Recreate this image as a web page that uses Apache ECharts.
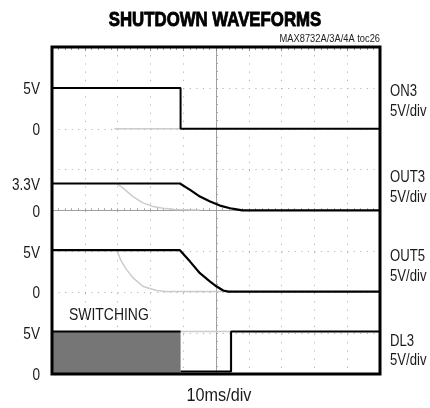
<!DOCTYPE html>
<html><head><meta charset="utf-8">
<script src="https://cdn.jsdelivr.net/npm/echarts@6/dist/echarts.min.js"></script>
<style>html,body{margin:0;padding:0;background:#fff}#c{width:430px;height:408px}</style>
</head><body><div id="c"></div>
<script>
// time in ms (0 = screen centre, 10 ms/div), voltages in V (5 V/div)
const channels = ['ON3', 'OUT3', 'OUT5', 'DL3'];
const channelZeroDiv = [2, 0, -2, -4];          // zero level of each channel, in divisions
const voltsPerDiv = 5;

// black (shutdown) traces
const on3T  = [-50, -10.8, -10.8, 50];
const on3V  = [5, 5, 0, 0];
const out3T = [-50, -11, -7.9, -4.9, -1.8, 1.2, 4.3, 6.3, 8, 50];
const out3V = [3.3, 3.3, 2.52, 1.70, 1.09, 0.60, 0.28, 0.14, 0.02, 0.02];
const out5T = [-50, -11, -7.9, -4.9, -1.8, 0.2, 2.2, 3.7, 50];
const out5V = [5.15, 5.15, 3.75, 2.33, 1.31, 0.70, 0.21, 0.08, 0.08];
const dl3SwT = [-50, -10.8];
const dl3SwV = [5.2, 5.2];
const dl3T  = [-10.8, 4.6, 4.6, 50];
const dl3V  = [0.3, 0.3, 5.2, 5.2];

// grey (earlier) traces
const on3GT  = [-31, -10.8];
const on3GV  = [0, 0];
const out3GT = [-30.3, -28.4, -25.3, -22.3, -19.2, -16.2, -12.5, -5];
const out3GV = [3.3, 2.76, 1.70, 0.93, 0.48, 0.28, 0.13, 0.05];
const out5GT = [-30.3, -28.8, -27.2, -25.2, -22.2, -18.1, -15.5, 5];
const out5GV = [5.15, 3.75, 2.74, 1.72, 0.70, 0.21, 0.08, 0.08];
const dl3GT  = [-10.8, 4.4, 4.4];
const dl3GV  = [5.2, 5.2, 0.3];

// axis label texts (left: level marks per channel, right: channel names)
const leftLabelChannel = [0, 0, 1, 1, 2, 2, 3, 3];
const leftLabelVolts   = [5, 0, 3.3, 0, 5, 0, 5, 0];
const leftLabelText    = ['5V', '0', '3.3V', '0', '5V', '0', '5V', '0'];
const rightLabelText   = ['ON3\n5V/div', 'OUT3\n5V/div', 'OUT5\n5V/div', 'DL3\n5V/div'];

const toDiv = (ch, v) => channelZeroDiv[ch] + v / voltsPerDiv;
const pts = (ch, T, V) => T.map((t, i) => [t, toDiv(ch, V[i])]);

// layout / style settings
const rightLabelOffsetDiv = [0.67, 0.56, 0.63, 0.56];
const FONT = '"Liberation Sans", Arial, sans-serif';
const NARROW = 0.82;
const grey = '#cccccc';

function line(data, color, width, extra) {
  return Object.assign({
    type: 'line', data, xAxisIndex: 0, yAxisIndex: 0, symbol: 'none',
    lineStyle: {color, width}, silent: true, animation: false, z: color === grey ? 3 : 5
  }, extra || {});
}

const tickCol = '#a0a0a0';
const centreAxisLine = {onZero: true, lineStyle: {color: tickCol, width: 1}};
const chart = echarts.init(document.getElementById('c'));
chart.setOption({
  animation: false,
  grid: {left: 52, right: 50, top: 47, bottom: 34, show: true, borderColor: '#000', borderWidth: 3,
         backgroundColor: 'transparent', z: 10, containLabel: false, outerBoundsMode: 'none'},
  xAxis: [
    {type: 'value', min: -50, max: 50, interval: 10,
     axisLine: centreAxisLine,
     axisTick: {show: true, inside: true, length: 2, lineStyle: {color: tickCol}},
     minorTick: {show: true, splitNumber: 5, length: 2, lineStyle: {color: tickCol}},
     axisLabel: {show: false},
     splitLine: {show: true, lineStyle: {color: '#b5b5b5', width: 1, type: [1.2, 7]}}},
    {type: 'value', min: -50, max: 50, interval: 10,
     axisLine: centreAxisLine,
     axisTick: {show: true, inside: false, length: 2, lineStyle: {color: tickCol}},
     minorTick: {show: true, splitNumber: 5, length: 2, lineStyle: {color: tickCol}},
     axisLabel: {show: false}, splitLine: {show: false}},
    {type: 'value', min: -50, max: 50, interval: 10, position: 'top',
     axisLine: {show: false, onZero: false},
     axisTick: {show: true, inside: true, length: 4, lineStyle: {color: '#888'}},
     minorTick: {show: true, splitNumber: 5, length: 3, lineStyle: {color: '#999'}},
     axisLabel: {show: false}, splitLine: {show: false}}
  ],
  yAxis: [
    {type: 'value', min: -4, max: 4, interval: 1,
     axisLine: centreAxisLine,
     axisTick: {show: true, inside: true, length: 2, lineStyle: {color: tickCol}},
     minorTick: {show: true, splitNumber: 5, length: 2, lineStyle: {color: tickCol}},
     axisLabel: {show: false},
     splitLine: {show: true, lineStyle: {color: '#b5b5b5', width: 1, type: [1.2, 5.36]}}},
    {type: 'value', min: -4, max: 4, interval: 1,
     axisLine: centreAxisLine,
     axisTick: {show: true, inside: false, length: 2, lineStyle: {color: tickCol}},
     minorTick: {show: true, splitNumber: 5, length: 2, lineStyle: {color: tickCol}},
     axisLabel: {show: false}, splitLine: {show: false}}
  ],
  series: [
    line(pts(0, on3GT, on3GV), grey, 1.5),
    line(pts(1, out3GT, out3GV), grey, 1.5),
    line(pts(2, out5GT, out5GV), grey, 1.5),
    line(pts(3, dl3GT, dl3GV), grey, 1.5),
    line(pts(3, dl3SwT, dl3SwV), '#000', 2, {areaStyle: {color: '#767676', opacity: 1, origin: 'start'}}),
    line(pts(0, on3T, on3V), '#000', 2),
    line(pts(1, out3T, out3V), '#000', 2.2),
    line(pts(2, out5T, out5V), '#000', 2.2),
    line(pts(3, dl3T, dl3V), '#000', 2)
  ]
});

// text placed through the chart's own scales
const px = (x, y) => chart.convertToPixel({gridIndex: 0}, [x, y]);
const gridLeft = px(-50, 0)[0], gridRight = px(50, 0)[0];
const gridTop = px(0, 4)[1], gridBottom = px(0, -4)[1];
const centreX = px(0, 0)[0];

function txt(text, x, y, opt) {
  opt = opt || {};
  return {
    type: 'text', x, y, scaleX: opt.scaleX || NARROW, silent: true, z: 20,
    style: {
      text, x: 0, y: 0, fill: opt.color || '#1a1a1a',
      font: (opt.weight || 'normal') + ' ' + (opt.size || 17) + 'px ' + FONT,
      align: opt.align || 'left', verticalAlign: 'middle',
      lineHeight: opt.lineHeight, stroke: opt.stroke, lineWidth: opt.strokeWidth
    }
  };
}

const graphics = [];
graphics.push(txt('SHUTDOWN WAVEFORMS', (gridLeft + gridRight) / 2 - 1, 20,
  {size: 21, weight: 'bold', align: 'center', color: '#000', stroke: '#000', strokeWidth: 0.9, scaleX: 0.80}));
graphics.push(txt('MAX8732A/3A/4A toc26', gridRight, 39, {size: 11.5, align: 'right', color: '#222', scaleX: 0.81}));
graphics.push(txt('10ms/div', centreX + 3, 396, {size: 18, align: 'center', scaleX: 0.9}));
graphics.push(txt('SWITCHING', gridLeft + 17, 315, {size: 17}));
leftLabelText.forEach((t, i) => {
  const y = px(0, toDiv(leftLabelChannel[i], leftLabelVolts[i]))[1];
  graphics.push(txt(t, gridLeft - 12, y + 1.5, {size: 17, align: 'right', scaleX: 0.8}));
});
rightLabelText.forEach((t, i) => {
  const y = px(0, channelZeroDiv[i] + rightLabelOffsetDiv[i])[1];
  graphics.push(txt(t, gridRight + 10, y, {size: 16, lineHeight: 19.5}));
});
chart.setOption({graphic: graphics});
</script></body></html>
